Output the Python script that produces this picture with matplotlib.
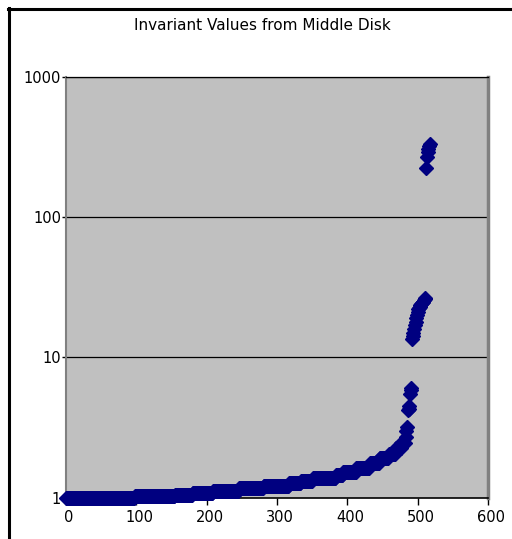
import numpy as np
import matplotlib
matplotlib.use("Agg")
import matplotlib.pyplot as plt
import matplotlib.transforms as mtransforms
from matplotlib.lines import Line2D
from matplotlib.ticker import FixedLocator, NullLocator, FixedFormatter

title = "Invariant Values from Middle Disk"

# sorted invariant values as (value, count) runs
run_values = [1.00, 1.02, 1.04, 1.07, 1.12, 1.16, 1.21, 1.27, 1.32, 1.38,
              1.44, 1.51, 1.62, 1.76, 1.92, 2.05, 2.25, 2.45, 2.7]
run_counts = [98, 57, 25, 29, 37, 35, 36, 17, 17, 33,
              10, 19, 19, 14, 13, 10, 8, 6, 1]
tail_values = [3.0, 3.2, 4.2, 4.3, 4.5, 5.5, 5.8, 6.0,
               13.5, 14.2, 15.0, 16.0, 17.0, 18.0, 19.0, 20.0, 21.0, 22.0,
               22.5, 23.0, 23.5, 24.0, 24.5, 25.0, 25.0, 25.5, 26.0, 26.5,
               225, 270, 290, 305, 320, 335]

x_ticks = [0, 100, 200, 300, 400, 500, 600]
y_ticks = [1, 10, 100, 1000]
y_tick_labels = ["1", "10", "100", "1000"]

values = np.concatenate([np.repeat(run_values, run_counts), tail_values])
index = np.arange(len(values))

W, H = 512, 539
fig = plt.figure(figsize=(W / 100, H / 100), dpi=100)
fig.patch.set_facecolor("white")

ax = fig.add_axes([66 / W, 1 - 497.5 / H, (488 - 66) / W, (497.5 - 77) / H])
ax.set_facecolor("#C0C0C0")
ax.set_yscale("log")
ax.set_xlim(0, 600)
ax.set_ylim(1, 1000)

for yv in [10, 100, 1000]:
    ax.axhline(yv, color="black", lw=0.9, zorder=1)

ax.plot(index, values, linestyle="none", marker="D", markersize=7,
        markerfacecolor="#000080", markeredgecolor="#000080",
        clip_on=False, zorder=3)

ax.xaxis.set_major_locator(FixedLocator(x_ticks))
ax.yaxis.set_major_locator(FixedLocator(y_ticks))
ax.yaxis.set_major_formatter(FixedFormatter(y_tick_labels))
ax.yaxis.set_minor_locator(NullLocator())
ax.set_xticklabels([str(t) for t in x_ticks])

ax.tick_params(axis="x", direction="out", length=5, width=1, color="black",
               labelsize=10.5, pad=4)
ax.tick_params(axis="y", direction="out", length=3, width=1, color="black",
               labelsize=10.5, pad=0.5)

shift = mtransforms.ScaledTranslation(3 / 100, 0, fig.dpi_scale_trans)
for lab in ax.get_xticklabels():
    lab.set_transform(lab.get_transform() + shift)

for side, sp in ax.spines.items():
    sp.set_color("#808080")
    sp.set_linewidth(1.5)
ax.spines["right"].set_linewidth(2.5)
ax.spines["bottom"].set_color("black")
ax.spines["bottom"].set_linewidth(1.2)
ax.spines["top"].set_color("black")
ax.spines["top"].set_linewidth(0.9)

fig.text(262 / W, 1 - 25 / H, title, ha="center", va="center", fontsize=11)

# outer chart frame (extends beyond the image on right and bottom)
fig.add_artist(Line2D([9 / W, 9 / W], [1 - 8 / H, -0.05], color="black",
                      lw=2.2, transform=fig.transFigure))
fig.add_artist(Line2D([8 / W, 1.05], [1 - 9 / H, 1 - 9 / H], color="black",
                      lw=2.2, transform=fig.transFigure))

fig.savefig("out.png", dpi=100)
